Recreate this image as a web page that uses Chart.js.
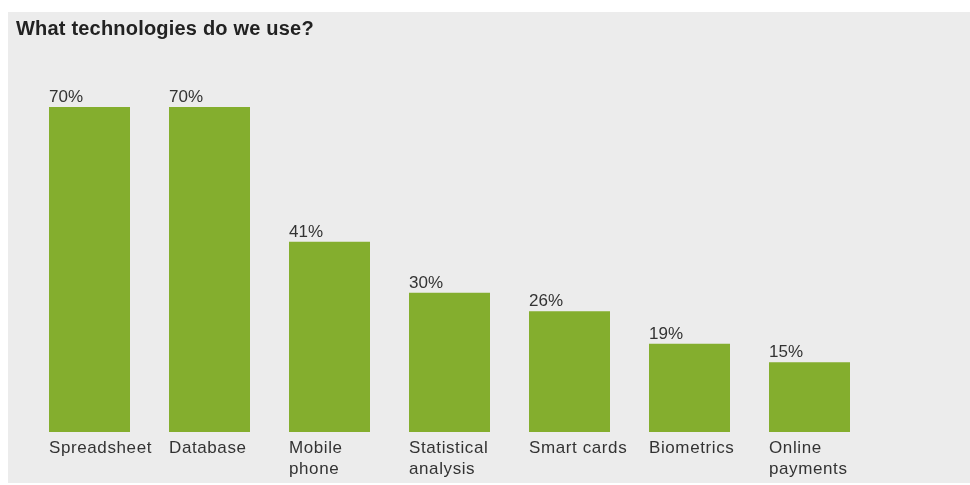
<!DOCTYPE html>
<html>
<head>
<meta charset="utf-8">
<script src="https://cdn.jsdelivr.net/npm/chart.js@4/dist/chart.umd.min.js"></script>
<style>
  html, body { margin: 0; padding: 0; background: #fff; }
  #wrap { width: 970px; height: 485px; position: relative; }
</style>
</head>
<body>
<div id="wrap"><canvas id="techChart" width="970" height="485"></canvas></div>
<script>
const chartTitle = "What technologies do we use?";
const categories = [
  ["Spreadsheet"],
  ["Database"],
  ["Mobile", "phone"],
  ["Statistical", "analysis"],
  ["Smart cards"],
  ["Biometrics"],
  ["Online", "payments"]
];
const shares = [70, 70, 41, 30, 26, 19, 15];
const valueLabels = ["70%", "70%", "41%", "30%", "26%", "19%", "15%"];

const FONT = "'Liberation Sans', Arial, Helvetica, sans-serif";

// panel background + title + left-aligned labels
const panelLabels = {
  id: "panelLabels",
  beforeDraw(chart) {
    const ctx = chart.ctx;
    ctx.save();
    ctx.fillStyle = "#ececec";
    ctx.fillRect(8, 12, 962, 471);
    ctx.fillStyle = "#222";
    ctx.font = "bold 20px " + FONT;
    ctx.letterSpacing = "0.2px";
    ctx.textBaseline = "alphabetic";
    ctx.textAlign = "left";
    ctx.fillText(chartTitle, 16, 35);
    ctx.restore();
  },
  afterDatasetsDraw(chart) {
    const ctx = chart.ctx;
    const meta = chart.getDatasetMeta(0);
    const bottom = chart.scales.y.getPixelForValue(0);
    ctx.save();
    ctx.fillStyle = "#333";
    ctx.font = "17px " + FONT;
    ctx.textAlign = "left";
    ctx.textBaseline = "alphabetic";
    meta.data.forEach((bar, i) => {
      const left = bar.x - bar.width / 2;
      ctx.letterSpacing = "0px";
      ctx.fillText(valueLabels[i], left, bar.y - 5);
      ctx.letterSpacing = "0.6px";
      categories[i].forEach((line, j) => {
        ctx.fillText(line, left, bottom + 21 + j * 20.5);
      });
    });
    ctx.restore();
  }
};

new Chart(document.getElementById("techChart"), {
  type: "bar",
  data: {
    labels: categories,
    datasets: [{
      data: shares,
      backgroundColor: "#84ae2e",
      borderWidth: 0,
      barPercentage: 0.675,
      categoryPercentage: 1
    }]
  },
  options: {
    responsive: false,
    animation: false,
    layout: { padding: { left: 29.5, right: 100.5, top: 107, bottom: 53 } },
    plugins: {
      legend: { display: false },
      title: { display: false },
      tooltip: { enabled: false }
    },
    scales: {
      x: { display: false },
      y: { display: false, min: 0, max: 70 }
    }
  },
  plugins: [panelLabels]
});
</script>
</body>
</html>
